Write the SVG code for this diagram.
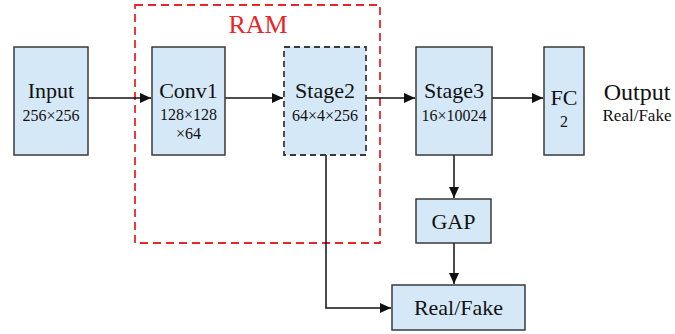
<svg xmlns="http://www.w3.org/2000/svg" width="675" height="334" viewBox="0 0 675 334">
<style>
.box{fill:#d5e8f7;stroke:#3a3a3a;stroke-width:1.5}
.dbox{fill:#d5e8f7;stroke:#3a3a3a;stroke-width:1.8;stroke-dasharray:6,4}
text{font-family:'Liberation Serif','DejaVu Serif','Times New Roman',serif;fill:#111;text-anchor:middle}
.big{font-size:22px}
.small{font-size:16px}
.ln{fill:none;stroke:#111;stroke-width:1.5}
</style>
<defs>
<marker id="ah" markerWidth="12" markerHeight="12" refX="11" refY="6" orient="auto" markerUnits="userSpaceOnUse">
<path d="M0,1 L11,6 L0,11 Z" fill="#111"/>
</marker>
</defs>
<rect x="0" y="0" width="675" height="334" fill="#fff"/>
<g id="ram">
<rect x="135" y="5" width="245" height="238" fill="none" stroke="#e8262a" stroke-width="1.8" stroke-dasharray="8,5"/>
<text x="258" y="33" style="font-size:26px;fill:#e8262a">RAM</text>
</g>
<g id="connectors">
<line class="ln" x1="88" y1="98" x2="151" y2="98" marker-end="url(#ah)"/>
<line class="ln" x1="225" y1="98" x2="283" y2="98" marker-end="url(#ah)"/>
<line class="ln" x1="366" y1="98" x2="415" y2="98" marker-end="url(#ah)"/>
<line class="ln" x1="492" y1="98" x2="543" y2="98" marker-end="url(#ah)"/>
<line class="ln" x1="454" y1="155" x2="454" y2="198" marker-end="url(#ah)"/>
<line class="ln" x1="454" y1="243" x2="454" y2="284" marker-end="url(#ah)"/>
<polyline class="ln" points="326,155 326,308 391,308" marker-end="url(#ah)"/>
</g>
<g id="input">
<rect class="box" x="14" y="47" width="74" height="108"/>
<text x="51" y="98" class="big">Input</text>
<text x="51" y="121" class="small">256×256</text>
</g>
<g id="conv1">
<rect class="box" x="152" y="47" width="73" height="108"/>
<text x="188.5" y="98" class="big">Conv1</text>
<text x="188.5" y="120" class="small">128×128</text>
<text x="188.5" y="139" class="small">×64</text>
</g>
<g id="stage2">
<rect class="dbox" x="284" y="47" width="82" height="108"/>
<text x="325" y="98" class="big">Stage2</text>
<text x="325" y="121" class="small">64×4×256</text>
</g>
<g id="stage3">
<rect class="box" x="416" y="47" width="76" height="108"/>
<text x="454" y="98" class="big">Stage3</text>
<text x="454" y="121" class="small">16×10024</text>
</g>
<g id="fc">
<rect class="box" x="544" y="47" width="40" height="108"/>
<text x="564" y="105" class="big">FC</text>
<text x="564" y="127" class="small">2</text>
</g>
<g id="output">
<text x="637" y="100" style="font-size:24px">Output</text>
<text x="637" y="121" style="font-size:17px">Real/Fake</text>
</g>
<g id="gap">
<rect class="box" x="416" y="199" width="75" height="44"/>
<text x="453.5" y="229" class="big">GAP</text>
</g>
<g id="realfake">
<rect class="box" x="392" y="285" width="133" height="45"/>
<text x="458.5" y="315" class="big">Real/Fake</text>
</g>
</svg>
